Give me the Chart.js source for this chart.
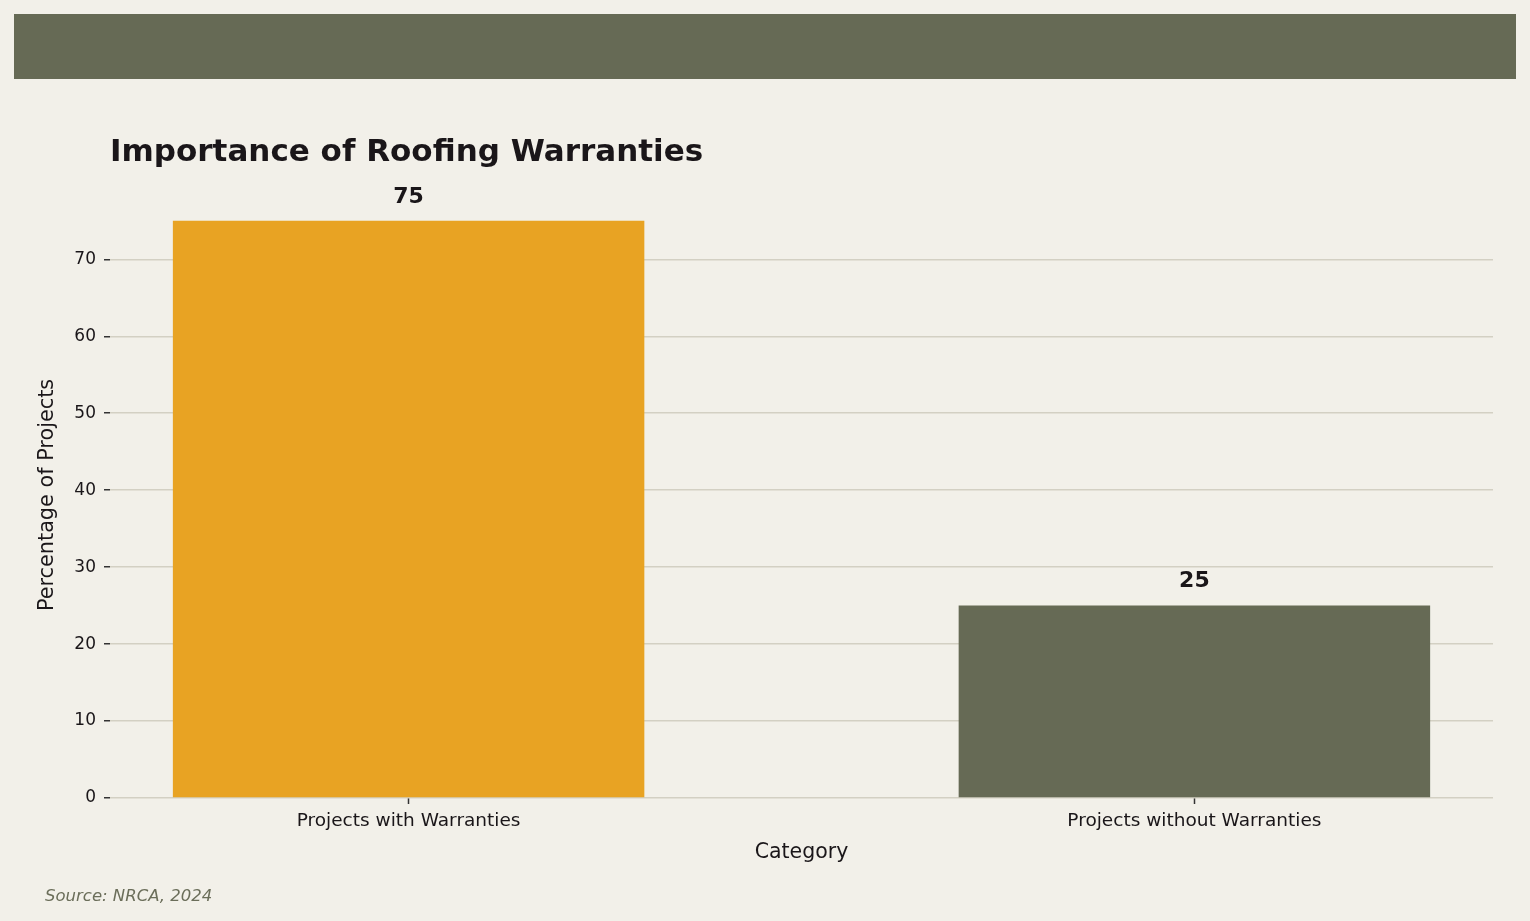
<!DOCTYPE html>
<html>
<head>
<meta charset="utf-8">
<script src="https://cdn.jsdelivr.net/npm/chart.js@4.4.1/dist/chart.umd.min.js"></script>
<style>
  html, body { margin: 0; padding: 0; background: #f2f0e9; }
  #wrap { width: 1530px; height: 921px; position: relative; }
</style>
</head>
<body>
<div id="wrap"><canvas id="myChart" width="1530" height="921"></canvas></div>
<script>
const categories = ["Projects with Warranties", "Projects without Warranties"];
const percentages = [75, 25];
const barColors = ["#e8a323", "#666a55"];
const yTicks = [0, 10, 20, 30, 40, 50, 60, 70];

const chartTitle = "Importance of Roofing Warranties";
const sourceNote = "Source: NRCA, 2024";

const bg = "#f2f0e9";
const dark = "#1a1619";

// background, header band, title and source line
const decorPlugin = {
  id: "decor",
  beforeDraw(chart) {
    const ctx = chart.ctx;
    ctx.save();
    ctx.fillStyle = bg;
    ctx.fillRect(0, 0, chart.width, chart.height);
    ctx.fillStyle = "#666a55";
    ctx.fillRect(14, 14, 1502, 65);
    ctx.restore();
  },
  afterDraw(chart) {
    const ctx = chart.ctx;
    ctx.save();
    ctx.fillStyle = dark;
    ctx.font = "bold 31px 'DejaVu Sans'";
    ctx.textAlign = "left";
    ctx.textBaseline = "middle";
    ctx.fillText(chartTitle, chart.chartArea.left, 153);
    ctx.fillStyle = "#6b6e5a";
    ctx.font = "italic 16.5px 'DejaVu Sans'";
    ctx.fillText(sourceNote, 45, 897);
    ctx.restore();
  }
};

// value labels above the bars
const valueLabels = {
  id: "valueLabels",
  afterDatasetsDraw(chart) {
    const ctx = chart.ctx;
    const meta = chart.getDatasetMeta(0);
    ctx.save();
    ctx.fillStyle = dark;
    ctx.font = "bold 22px 'DejaVu Sans'";
    ctx.textAlign = "center";
    ctx.textBaseline = "middle";
    meta.data.forEach((bar, i) => {
      ctx.fillText(percentages[i], bar.x, bar.y - 24);
    });
    ctx.restore();
  }
};

const ctx = document.getElementById("myChart").getContext("2d");

const data = {
  datasets: [
    {
      data: percentages.map((v, i) => ({ x: i, y: v })),
      backgroundColor: barColors,
      borderWidth: 0,
      barPercentage: 0.6,
      categoryPercentage: 1,
    },
  ],
};

const config = {
  type: "bar",
  data: data,
  plugins: [decorPlugin, valueLabels],
  options: {
    responsive: false,
    animation: false,
    layout: { padding: { top: 192, right: 37, left: 0, bottom: 0 } },
    plugins: {
      legend: { display: false },
      tooltip: { enabled: false },
    },
    scales: {
      x: {
        type: "linear",
        min: -0.38,
        max: 1.38,
        offset: false,
        afterFit: (scale) => { scale.height = 123; },
        afterBuildTicks: (scale) => { scale.ticks = categories.map((c, i) => ({ value: i })); },
        grid: { display: true, offset: false, drawOnChartArea: false, drawTicks: true, tickLength: 6, tickColor: "#333", tickWidth: 1.5 },
        border: { display: false },
        ticks: {
          color: dark,
          font: { family: "'DejaVu Sans'", size: 18.5 },
          padding: 6,
          maxRotation: 0,
          autoSkip: false,
          callback: (v) => categories[v],
        },
        title: {
          display: true,
          text: "Category",
          color: dark,
          font: { family: "'DejaVu Sans'", size: 20.5 },
          padding: { top: 0, bottom: 56 },
        },
      },
      y: {
        min: 0,
        max: 78.75,
        afterFit: (scale) => { scale.width = 110; },
        afterBuildTicks: (scale) => { scale.ticks = yTicks.map((v) => ({ value: v })); },
        grid: { color: "#d3d0c3", lineWidth: 1.5, tickLength: 6, tickColor: "#333", tickWidth: 1.5 },
        border: { display: false },
        ticks: {
          color: dark,
          font: { family: "'DejaVu Sans'", size: 17 },
          padding: 8,
        },
        title: {
          display: true,
          text: "Percentage of Projects",
          color: dark,
          font: { family: "'DejaVu Sans'", size: 20.8 },
          padding: { top: 35, bottom: 0 },
        },
      },
    },
  },
};

const myChart = new Chart(ctx, config);
</script>
</body>
</html>
